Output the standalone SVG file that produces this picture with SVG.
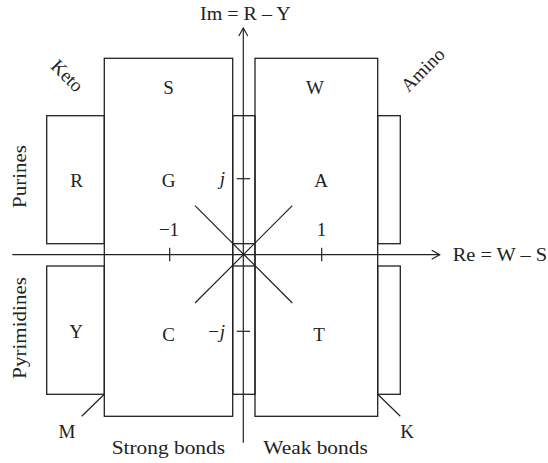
<svg xmlns="http://www.w3.org/2000/svg" width="548" height="463" viewBox="0 0 548 463">
<style>
.b{fill:none;stroke:#222;stroke-width:1.3}
.l{fill:none;stroke:#222;stroke-width:1.2}
text{font-family:"Liberation Serif","Times New Roman",serif;font-size:19px;fill:#222}
.c{text-anchor:middle}
.i{font-style:italic}
</style>
<defs>
<marker id="ar" viewBox="0 0 10 10" refX="9" refY="5" markerWidth="10" markerHeight="10" markerUnits="userSpaceOnUse" orient="auto">
<path d="M1,0.5 L9,5 L1,9.5" fill="none" stroke="#222" stroke-width="1.2"/>
</marker>
</defs>
<rect width="548" height="463" fill="#fff"/>
<g id="node-S-C">
<rect class="b" x="104.3" y="58.3" width="128.4" height="358"/>
<text class="c" x="168.5" y="94">S</text>
<text class="c" x="168.5" y="187">G</text>
<text class="c" x="168.5" y="341">C</text>
</g>
<g id="node-W-T">
<rect class="b" x="255" y="58.3" width="122.7" height="358"/>
<text class="c" x="315" y="94">W</text>
<text class="c" x="321" y="187">A</text>
<text class="c" x="319" y="341">T</text>
</g>
<g id="node-R">
<rect class="b" x="46.7" y="115.7" width="57.6" height="128"/>
<text class="c" x="76.5" y="187">R</text>
</g>
<g id="node-Y">
<rect class="b" x="46.7" y="266" width="57.6" height="128.3"/>
<text class="c" x="76" y="338">Y</text>
</g>
<g id="node-right-top">
<rect class="b" x="377.7" y="115.7" width="22.6" height="128"/>
</g>
<g id="node-right-bottom">
<rect class="b" x="377.7" y="266" width="22.6" height="128.3"/>
</g>
<g id="node-middle">
<rect class="b" x="232.7" y="115.7" width="22.3" height="278.6"/>
<line class="b" x1="232.7" y1="243.7" x2="255" y2="243.7"/>
<line class="b" x1="232.7" y1="266" x2="255" y2="266"/>
</g>
<g id="connectors">
<line class="l" x1="243.3" y1="442.7" x2="243.3" y2="28" marker-end="url(#ar)"/>
<line class="l" x1="12.3" y1="254.7" x2="439.7" y2="254.7" marker-end="url(#ar)"/>
<line class="l" x1="195" y1="205.7" x2="292.3" y2="303"/>
<line class="l" x1="292.3" y1="205.7" x2="195" y2="303"/>
<line class="l" x1="169.7" y1="247.7" x2="169.7" y2="261.3"/>
<line class="l" x1="321.7" y1="247.7" x2="321.7" y2="261.3"/>
<line class="l" x1="236.7" y1="178.7" x2="250" y2="178.7"/>
<line class="l" x1="236.7" y1="331.3" x2="250" y2="331.3"/>
<line class="l" x1="104.3" y1="394.3" x2="81.7" y2="416.3"/>
<line class="l" x1="377.7" y1="394.3" x2="400.3" y2="416.3"/>
</g>
<g id="labels">
<text x="200" y="20" textLength="90.7" lengthAdjust="spacingAndGlyphs">Im = R – Y</text>
<text x="452.7" y="261" textLength="94.5" lengthAdjust="spacingAndGlyphs">Re = W – S</text>
<text class="c" x="169" y="236">−1</text>
<text class="c" x="321.5" y="236">1</text>
<text class="i" x="225" y="185" text-anchor="end">j</text>
<text class="i" x="225" y="338" text-anchor="end">−j</text>
<text class="c" transform="translate(67,76) rotate(45)" y="6">Keto</text>
<text class="c" transform="translate(423,70) rotate(-45)" y="6">Amino</text>
<text transform="translate(26,208) rotate(-90)" textLength="63" lengthAdjust="spacingAndGlyphs">Purines</text>
<text transform="translate(26,378.7) rotate(-90)" textLength="101.7" lengthAdjust="spacingAndGlyphs">Pyrimidines</text>
<text class="c" x="67" y="438">M</text>
<text class="c" x="407" y="438">K</text>
<text x="111.7" y="454" textLength="113.3" lengthAdjust="spacingAndGlyphs">Strong bonds</text>
<text x="263.3" y="454" textLength="104.4" lengthAdjust="spacingAndGlyphs">Weak bonds</text>
</g>
</svg>
